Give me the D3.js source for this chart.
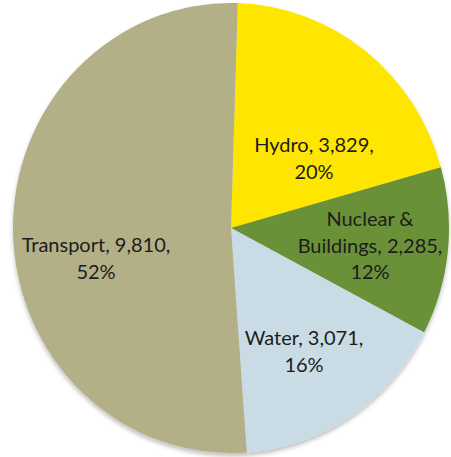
<!DOCTYPE html>
<html>
<head>
<meta charset="utf-8">
<script src="https://cdn.jsdelivr.net/npm/d3@7"></script>
<style>
  body { margin: 0; background: #fff; }
  svg { display: block; }
</style>
</head>
<body>
<svg width="451" height="457"></svg>
<script>
const width = 451
const height = 457

const categories = ["Hydro", "Nuclear & Buildings", "Water", "Transport"]
const values = [3829, 2285, 3071, 9810]
const percents = ["20%", "12%", "16%", "52%"]
const colors = ["#FFE600", "#6B9139", "#C9DCE6", "#B3B087"]

// label lines as they wrap in the picture
const labelLines = [
  ["Hydro, 3,829,", "20%"],
  ["Nuclear &", "Buildings, 2,285,", "12%"],
  ["Water, 3,071,", "16%"],
  ["Transport, 9,810,", "52%"]
]

const cx = 231, cy = 228
const rx = 218, ry = 225

const svg = d3.select("svg")

const defs = svg.append("defs")
const f = defs.append("filter").attr("id", "sh").attr("x", "-10%").attr("y", "-10%").attr("width", "120%").attr("height", "120%")
f.append("feDropShadow").attr("dx", 0).attr("dy", 3).attr("stdDeviation", 2).attr("flood-color", "#000").attr("flood-opacity", 0.25)

const pie = d3.pie()
  .sort(null)
  .value(d => d)
  .startAngle(0.031)
  .endAngle(0.031 + 2 * Math.PI)

const arcs = pie(values)

const arc = d3.arc().innerRadius(0).outerRadius(rx)

const g = svg.append("g")
  .attr("transform", `translate(${cx},${cy}) scale(1,${ry / rx})`)
  .attr("filter", "url(#sh)")

g.selectAll("path")
  .data(arcs)
  .join("path")
  .attr("d", arc)
  .attr("fill", (d, i) => colors[i])

// label anchor points (centre of first baseline)
const labelPos = [
  [314, 152],
  [370, 226],
  [304, 345],
  [96, 252]
]

const labels = svg.append("g")
  .attr("font-family", "Lato, 'Open Sans', sans-serif")
  .attr("font-size", 20)
  .attr("fill", "#1c1c1c")
  .attr("text-anchor", "middle")

labels.selectAll("text")
  .data(labelLines)
  .join("text")
  .attr("x", (d, i) => labelPos[i][0])
  .attr("y", (d, i) => labelPos[i][1])
  .selectAll("tspan")
  .data((d, i) => d.map(t => ({t, i})))
  .join("tspan")
  .attr("x", d => labelPos[d.i][0])
  .attr("dy", (d, j) => j === 0 ? 0 : 26.5)
  .text(d => d.t)
</script>
</body>
</html>
